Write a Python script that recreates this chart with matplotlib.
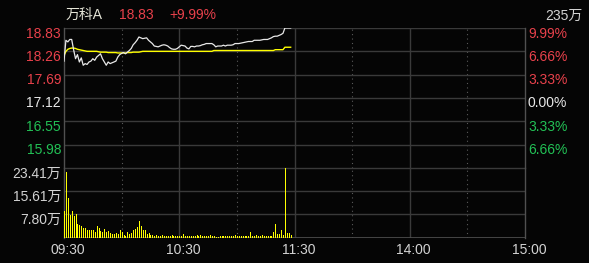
import matplotlib
matplotlib.use("Agg")
import matplotlib.pyplot as plt
import numpy as np

# ===================== 資料（09:30 起每分鐘） =====================
STOCK_NAME = "万科A"
LAST_PRICE = "18.83"
LAST_PCT = "+9.99%"
TOTAL_VOL = "235万"

price = [
    18.02, 18.53, 18.49, 18.55, 18.55, 18.30, 18.08, 18.18, 18.00, 18.10,
    17.92, 17.96, 17.94, 18.00, 18.02, 18.08, 18.04, 18.12, 18.16, 18.20,
    18.08, 18.00, 17.92, 18.00, 17.96, 17.98, 18.00, 18.02, 18.12, 18.18,
    18.21, 18.23, 18.20, 18.24, 18.28, 18.33, 18.42, 18.47, 18.53, 18.61,
    18.59, 18.57, 18.58, 18.59, 18.53, 18.49, 18.45, 18.39, 18.38, 18.37,
    18.39, 18.41, 18.42, 18.41, 18.39, 18.35, 18.32, 18.31, 18.31, 18.33,
    18.37, 18.41, 18.40, 18.39, 18.34, 18.32, 18.38, 18.38, 18.37, 18.39,
    18.39, 18.40, 18.42, 18.43, 18.45, 18.45, 18.45, 18.45, 18.42, 18.37,
    18.39, 18.39, 18.39, 18.41, 18.39, 18.41, 18.41, 18.41, 18.42, 18.45,
    18.45, 18.45, 18.46, 18.47, 18.48, 18.49, 18.50, 18.50, 18.50, 18.53,
    18.53, 18.53, 18.53, 18.54, 18.55, 18.55, 18.55, 18.57, 18.59, 18.62,
    18.63, 18.63, 18.65, 18.67, 18.70, 18.83, 18.83, 18.83, 18.83,
]

avg_price = [
    18.16, 18.26, 18.31, 18.33, 18.34, 18.34, 18.33, 18.31, 18.30, 18.29,
    18.28, 18.27, 18.26, 18.26, 18.26, 18.26, 18.26, 18.26, 18.25, 18.24,
    18.24, 18.24, 18.24, 18.23, 18.23, 18.23, 18.23, 18.23, 18.22, 18.22,
    18.22, 18.22, 18.22, 18.23, 18.23, 18.23, 18.24, 18.24, 18.24, 18.24,
    18.25, 18.26, 18.26, 18.26, 18.26, 18.26, 18.26, 18.26, 18.26, 18.26,
    18.26, 18.26, 18.26, 18.26, 18.26, 18.26, 18.26, 18.26, 18.26, 18.26,
    18.26, 18.26, 18.26, 18.26, 18.26, 18.26, 18.26, 18.26, 18.26, 18.26,
    18.26, 18.26, 18.26, 18.26, 18.26, 18.26, 18.26, 18.26, 18.28, 18.28,
    18.28, 18.28, 18.28, 18.28, 18.28, 18.28, 18.28, 18.28, 18.28, 18.28,
    18.28, 18.28, 18.28, 18.28, 18.28, 18.28, 18.28, 18.28, 18.28, 18.28,
    18.28, 18.28, 18.28, 18.28, 18.28, 18.28, 18.28, 18.28, 18.28, 18.28,
    18.30, 18.30, 18.30, 18.30, 18.30, 18.36, 18.36, 18.36, 18.36,
]

# 成交量（萬）
volume = [
    8.8, 21.9, 13.4, 7.6, 9.0, 7.1, 8.0, 4.6, 4.2, 3.9,
    3.3, 3.1, 2.5, 2.5, 2.5, 2.5, 2.0, 3.9, 3.1, 2.2,
    2.0, 2.9, 1.8, 2.2, 1.4, 1.1, 1.1, 1.4, 1.1, 2.5,
    1.8, 0.85, 0.5, 1.8, 1.3, 1.4, 2.5, 2.9, 3.6, 5.4,
    3.9, 2.5, 2.5, 1.3, 1.5, 0.85, 0.85, 0.5, 0.85, 0.5,
    0.5, 0.85, 0.5, 0.5, 0.5, 0.5, 0.85, 0.5, 0.5, 0.5,
    0.5, 0.5, 1.2, 0.5, 0.6, 0.5, 0.5, 0.6, 0.5, 0.7,
    0.5, 0.85, 0.5, 0.5, 0.6, 0.5, 0.85, 0.5, 0.5, 0.2,
    0.3, 0.5, 0.6, 0.5, 0.5, 0.5, 0.5, 0.6, 0.5, 0.85,
    0.5, 0.6, 0.5, 0.5, 0.5, 0.6, 0.5, 1.9, 0.5, 0.6,
    0.85, 0.5, 0.5, 0.85, 0.5, 0.6, 0.5, 0.5, 0.4, 1.9,
    4.6, 1.1, 1.2, 2.5, 0.85, 23.41, 1.5, 1.5, 0.85,
]

price_ticks = [18.83, 18.26, 17.69, 17.12, 16.55, 15.98]
price_labels = ["18.83", "18.26", "17.69", "17.12", "16.55", "15.98"]
pct_labels = ["9.99%", "6.66%", "3.33%", "0.00%", "3.33%", "6.66%"]
price_low = 15.41
vol_ticks = [23.41, 15.61, 7.80]
vol_labels = ["23.41万", "15.61万", "7.80万"]
time_ticks = [0, 60, 120, 180, 240]
time_labels = ["09:30", "10:30", "11:30", "14:00", "15:00"]
half_hours = [30, 90, 150, 210]
# ================================================================

BG = "#050505"
GRID = "#3a3a3a"
BORDER = "#505050"
RED = "#e8414b"
GREEN = "#22c055"
WHITE = "#e8e8e8"
GRAY_TXT = "#d2d2d2"
FONT = ["Liberation Sans", "Noto Sans CJK SC", "DejaVu Sans"]
FS = 10

W, H = 589, 263
fig = plt.figure(figsize=(W / 100, H / 100), dpi=100, facecolor=BG)


def px_box(x0, y0, x1, y1):
    return [x0 / W, 1 - y1 / H, (x1 - x0) / W, (y1 - y0) / H]


ax_p = fig.add_axes(px_box(64, 28, 525, 168))
ax_v = fig.add_axes(px_box(64, 168, 525, 237.5))

for ax in (ax_p, ax_v):
    ax.set_facecolor(BG)
    ax.set_xlim(0, 240)
    ax.set_xticks([])
    ax.set_yticks([])
    for side in ("top", "bottom"):
        ax.spines[side].set_visible(False)
    for side in ("left", "right"):
        ax.spines[side].set_color(BORDER)
        ax.spines[side].set_linewidth(1.0)
    for t in (60, 120, 180):
        ax.axvline(t, color=GRID, lw=1.0, zorder=1)
    for t in half_hours:
        ax.axvline(t, color="#5a5a5a", lw=0.8, ls=(0, (1, 3)), zorder=1)

# 價格區
ax_p.set_ylim(price_low, price_ticks[0])
for v in price_ticks:
    ax_p.axhline(v, color=GRID, lw=1.0, zorder=1)
ax_p.axhline(price_low, color=GRID, lw=1.0, zorder=1)

t = np.arange(len(price))
ax_p.plot(t, avg_price, color="#ffff00", lw=1.0, zorder=3)
ax_p.plot(t, price, color=WHITE, lw=0.9, zorder=4)

colors = [RED, RED, RED, WHITE, GREEN, GREEN]
ytf = ax_p.get_yaxis_transform()
for v, lab, pct, c in zip(price_ticks, price_labels, pct_labels, colors):
    ax_p.annotate(lab, xy=(0, v), xycoords=ytf, xytext=(-3, -5.5),
                  textcoords="offset pixels", ha="right", va="center",
                  color=c, fontsize=FS, family=FONT)
    ax_p.annotate(pct, xy=(1, v), xycoords=ytf, xytext=(3, -5.5),
                  textcoords="offset pixels", ha="left", va="center",
                  color=c, fontsize=FS, family=FONT)

# 成交量區（每根 1 像素寬的柱）
ax_v.set_ylim(0, vol_ticks[0])
for v in vol_ticks:
    ax_v.axhline(v, color=GRID, lw=1.0, zorder=1)
ax_v.axhline(0, color=BORDER, lw=1.2, zorder=1)
ax_v.vlines(np.arange(len(volume)), 0, volume, colors="#ffff00",
            linewidth=0.6, antialiased=False, zorder=3)

vtf = ax_v.get_yaxis_transform()
for v, lab in zip(vol_ticks, vol_labels):
    ax_v.annotate(lab, xy=(0, v), xycoords=vtf, xytext=(-3, -6),
                  textcoords="offset pixels", ha="right", va="center",
                  color=GRAY_TXT, fontsize=FS, family=FONT)

# 時間軸標籤
xtf = ax_v.get_xaxis_transform()
for tt, lab in zip(time_ticks, time_labels):
    ax_v.annotate(lab, xy=(tt, 0), xycoords=xtf, xytext=(4, -12),
                  textcoords="offset pixels", ha="center", va="center",
                  color=GRAY_TXT, fontsize=FS, family=FONT)

# 標題列
fig.text(66 / W, 1 - 15 / H, STOCK_NAME, color="#e6e6d8", fontsize=FS,
         family=FONT, ha="left", va="center")
fig.text(119 / W, 1 - 15 / H, LAST_PRICE, color=RED, fontsize=FS,
         family=FONT, ha="left", va="center")
fig.text(169 / W, 1 - 15 / H, LAST_PCT, color=RED, fontsize=FS,
         family=FONT, ha="left", va="center")
fig.text(583 / W, 1 - 16 / H, TOTAL_VOL, color=GRAY_TXT, fontsize=FS,
         family=FONT, ha="right", va="center")

fig.savefig("out.png", dpi=100, facecolor=BG)
